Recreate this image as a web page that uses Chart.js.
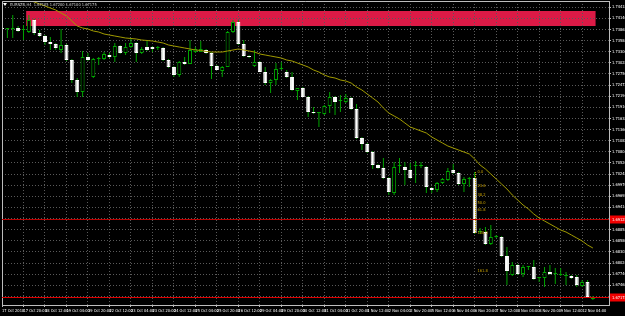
<!DOCTYPE html>
<html>
<head>
<meta charset="utf-8">
<script src="https://cdn.jsdelivr.net/npm/chart.js@4"></script>
<style>
html, body { margin: 0; padding: 0; background: #000; }
canvas { display: block; }
</style>
</head>
<body>
<canvas id="c" width="625" height="316"></canvas>
<script>
// EURNZD H4, one entry per bar (bar 0 = 17 Oct 2018 04:00)
var opens = [
  1.73900,1.73875,1.73875,1.73900,1.73850,1.73800,1.74100,1.73775,1.73700,1.73550,
  1.73500,1.73350,1.73475,1.73100,1.72600,1.72300,1.73175,1.72675,1.73125,1.73125,
  1.73225,1.73175,1.73450,1.73275,1.73425,1.73525,1.73275,1.73425,1.73425,1.73400,
  1.73400,1.73100,1.72925,1.72725,1.73050,1.73000,1.73300,1.73300,1.73350,1.73275,
  1.72950,1.72825,1.72925,1.73800,1.74050,1.73500,1.73200,1.72950,1.73050,1.72800,
  1.72525,1.72600,1.72875,1.72800,1.72675,1.72325,1.72400,1.72175,1.71800,1.71775,
  1.71750,1.71950,1.72175,1.72075,1.72050,1.72150,1.71875,1.71150,1.71000,1.70800,
  1.70475,1.70400,1.70150,1.69775,1.70450,1.70425,1.70350,1.70450,1.70450,1.70425,
  1.69900,1.69850,1.70025,1.70100,1.70350,1.70275,1.70000,1.70125,1.70150,1.68800,
  1.68800,1.68500,1.68675,1.68675,1.68200,1.67725,1.67975,1.67750,1.67925,1.67925,
  1.67650,1.67650,1.67800,1.67750,1.67725,1.67700,1.67700,1.67675,1.67450,1.67550,
  1.67125
];
var highs = [
  1.74025,1.73900,1.74225,1.73950,1.73975,1.74225,1.74125,1.73850,1.73725,1.73675,
  1.73525,1.73875,1.73500,1.73125,1.72650,1.73325,1.73275,1.73150,1.73175,1.73300,
  1.73275,1.73525,1.73475,1.73525,1.73650,1.73550,1.73425,1.73600,1.73450,1.73450,
  1.73425,1.73125,1.72950,1.73075,1.73175,1.73600,1.73425,1.73575,1.73375,1.73300,
  1.72975,1.72950,1.73825,1.74100,1.74100,1.73600,1.73225,1.73350,1.73075,1.72925,
  1.72625,1.73025,1.73050,1.72850,1.72800,1.72400,1.72425,1.72200,1.71925,1.71800,
  1.71975,1.72300,1.72200,1.72225,1.72250,1.72175,1.72000,1.71175,1.71025,1.70825,
  1.70500,1.70650,1.70175,1.70550,1.70650,1.70550,1.70525,1.70575,1.70550,1.70450,
  1.69925,1.70050,1.70150,1.70400,1.70500,1.70300,1.70175,1.70175,1.70300,1.68900,
  1.68925,1.68975,1.68725,1.68700,1.68425,1.68050,1.68000,1.67975,1.67950,1.68100,
  1.67675,1.67925,1.67975,1.67900,1.67900,1.67800,1.67725,1.67725,1.67600,1.67600,
  1.67200
];
var lows = [
  1.73850,1.73650,1.73650,1.73800,1.73600,1.73775,1.73725,1.73675,1.73475,1.73350,
  1.73350,1.73275,1.73075,1.72525,1.72175,1.72175,1.73075,1.72650,1.72975,1.73100,
  1.73150,1.73050,1.73250,1.73225,1.73400,1.73050,1.73250,1.73325,1.73300,1.73350,
  1.73075,1.72900,1.72675,1.72675,1.72975,1.73000,1.73275,1.73300,1.73250,1.72625,
  1.72850,1.72675,1.72925,1.73775,1.73475,1.73175,1.73150,1.72925,1.72800,1.72475,
  1.72275,1.72475,1.72850,1.72650,1.72325,1.72100,1.72175,1.71675,1.71750,1.71425,
  1.71725,1.71775,1.71725,1.71800,1.72025,1.71850,1.71125,1.70850,1.70775,1.70375,
  1.70375,1.70125,1.69725,1.69725,1.70275,1.69975,1.70125,1.70025,1.70400,1.69775,
  1.69775,1.69800,1.70000,1.70075,1.70250,1.69975,1.69800,1.69925,1.68750,1.68750,
  1.68475,1.68475,1.68650,1.68175,1.67475,1.67700,1.67725,1.67675,1.67850,1.67600,
  1.67550,1.67425,1.67725,1.67500,1.67700,1.67475,1.67625,1.67425,1.67425,1.67150,
  1.67100
];
var closes = [
  1.73875,1.73900,1.73900,1.73825,1.73850,1.74100,1.73775,1.73700,1.73550,1.73500,
  1.73400,1.73475,1.73100,1.72600,1.72300,1.73175,1.73100,1.73125,1.73125,1.73250,
  1.73175,1.73450,1.73275,1.73425,1.73525,1.73275,1.73375,1.73350,1.73375,1.73400,
  1.73100,1.72925,1.72725,1.73050,1.73000,1.73350,1.73375,1.73375,1.73275,1.72950,
  1.72850,1.72925,1.73800,1.74050,1.73500,1.73200,1.73175,1.73050,1.72800,1.72525,
  1.72600,1.72875,1.72875,1.72675,1.72350,1.72400,1.72175,1.71800,1.71775,1.71775,
  1.71950,1.72175,1.72050,1.72075,1.72150,1.71875,1.71150,1.71000,1.70800,1.70475,
  1.70400,1.70150,1.69800,1.70425,1.70450,1.70350,1.70150,1.70450,1.70450,1.69925,
  1.69850,1.70025,1.70125,1.70325,1.70275,1.70000,1.70125,1.70125,1.68775,1.68800,
  1.68500,1.68675,1.68675,1.68200,1.67825,1.67975,1.67750,1.67925,1.67925,1.67625,
  1.67650,1.67800,1.67750,1.67750,1.67725,1.67700,1.67650,1.67475,1.67550,1.67175,
  1.67175
];
// moving average (yellow line)
var maValues = [
  null,null,null,null,1.74650,
  1.74600,1.74550,1.74500,1.74450,1.74400,1.74350,1.74275,1.74200,1.74075,1.73950,
  1.73900,1.73875,1.73825,1.73800,1.73750,1.73725,1.73700,1.73675,1.73650,1.73638,
  1.73625,1.73600,1.73588,1.73575,1.73550,1.73525,1.73475,1.73450,1.73425,1.73400,
  1.73375,1.73350,1.73338,1.73313,1.73300,1.73300,1.73300,1.73325,1.73350,1.73375,
  1.73350,1.73325,1.73300,1.73250,1.73225,1.73200,1.73175,1.73150,1.73100,1.73075,
  1.73025,1.72975,1.72925,1.72850,1.72800,1.72725,1.72675,1.72650,1.72600,1.72575,
  1.72525,1.72425,1.72350,1.72250,1.72150,1.72050,1.71900,1.71775,1.71700,1.71625,
  1.71525,1.71425,1.71375,1.71325,1.71275,1.71175,1.71100,1.71025,1.70950,1.70900,
  1.70850,1.70800,1.70750,1.70625,1.70475,1.70375,1.70250,1.70125,1.70000,1.69875,
  1.69725,1.69600,1.69475,1.69375,1.69250,1.69150,1.69075,1.69000,1.68925,1.68850,
  1.68800,1.68725,1.68650,1.68575,1.68475,1.68400
];
// time labels, one every 4 bars
var timeLabels = [
  '17 Oct 2018','17 Oct 20:00','18 Oct 12:00','19 Oct 04:00','19 Oct 20:00',
  '22 Oct 12:00','23 Oct 04:00','23 Oct 20:00','24 Oct 12:00','25 Oct 04:00',
  '25 Oct 20:00','26 Oct 12:00','29 Oct 04:00','29 Oct 20:00','30 Oct 12:00',
  '31 Oct 04:00','31 Oct 20:00','1 Nov 12:00','2 Nov 04:00','2 Nov 20:00',
  '5 Nov 12:00','6 Nov 04:00','6 Nov 20:00','7 Nov 12:00','8 Nov 04:00',
  '8 Nov 20:00','9 Nov 12:00','12 Nov 04:00'
];
var priceTicks = [
  1.74418,1.74140,1.73862,1.73584,1.73306,1.73028,1.72750,1.72472,1.72194,
  1.71916,1.71638,1.71360,1.71082,1.70804,1.70526,1.70248,1.69970,1.69692,
  1.69414,1.69136,1.68858,1.68580,1.68302,1.68024,1.67746,1.67468,1.67190
];
var zonePrices = [1.74325, 1.73950];   // red supply zone
var zoneBars = [5, 110];
var levelPrices = [1.69125, 1.67175];  // red horizontal lines
var fibPrices = [1.70300, 1.68775];    // fibo 0 / 100
var fibLevels = [0, 23.6, 38.2, 50, 61.8, 100, 161.8];
var fibBar = 88;
var headerText = 'EURNZD,H4  1.67125 1.67200 1.67100 1.67175';

var GREEN = '#00a400';
var GRID = '#5a5a5a';
var AXIS = '#bdbdbd';
var FONT = "'Liberation Sans Narrow', 'DejaVu Sans Condensed', sans-serif";
var N_SLOTS = 114;

var slots = [];
for (var i = 0; i < N_SLOTS; i++) slots.push(i);

var wicks = lows.map(function(l, i) { return [l, highs[i]]; });
var bodies = opens.map(function(o, i) { return [o, closes[i]]; });
var bodyFill = opens.map(function(o, i) {
  if (closes[i] > o) return '#000';
  if (closes[i] < o) return '#fff';
  return GREEN;
});
var bodyEdge = opens.map(function(o, i) { return closes[i] < o ? '#fff' : GREEN; });

var background = {
  id: 'background',
  beforeDraw: function(chart) {
    var ctx = chart.ctx, xs = chart.scales.x, ys = chart.scales.y;
    ctx.save();
    ctx.fillStyle = '#000';
    ctx.fillRect(0, 0, chart.width, chart.height);
    var step = xs.getPixelForValue(1) - xs.getPixelForValue(0);
    var x0 = xs.getPixelForValue(zoneBars[0]) - step / 2;
    var x1 = xs.getPixelForValue(zoneBars[1]) + step / 2;
    var y0 = ys.getPixelForValue(zonePrices[0]);
    var y1 = ys.getPixelForValue(zonePrices[1]);
    ctx.fillStyle = '#dc1a46';
    ctx.fillRect(x0, y0, x1 - x0, y1 - y0);
    ctx.restore();
  }
};

var overlays = {
  id: 'overlays',
  afterDraw: function(chart) {
    var ctx = chart.ctx, xs = chart.scales.x, ys = chart.scales.y, a = chart.chartArea;
    ctx.save();
    // frame
    ctx.strokeStyle = AXIS;
    ctx.lineWidth = 1;
    ctx.beginPath();
    ctx.moveTo(a.left + 0.5, a.bottom);
    ctx.lineTo(a.left + 0.5, a.top + 0.5);
    ctx.lineTo(a.right, a.top + 0.5);
    ctx.stroke();

    // fibo retracement
    var fx = Math.round(xs.getPixelForValue(fibBar)) + 0.5;
    var fy0 = ys.getPixelForValue(fibPrices[0]);
    var fy1 = ys.getPixelForValue(fibPrices[1]);
    ctx.strokeStyle = '#c8a000';
    ctx.setLineDash([1, 1]);
    ctx.beginPath();
    ctx.moveTo(fx, fy0);
    ctx.lineTo(fx, fy1);
    ctx.stroke();
    ctx.setLineDash([]);
    ctx.fillStyle = '#c8a000';
    ctx.font = '4px ' + FONT;
    ctx.textAlign = 'left';
    ctx.textBaseline = 'middle';
    fibLevels.forEach(function(lv) {
      var p = fibPrices[0] - (fibPrices[0] - fibPrices[1]) * lv / 100;
      ctx.fillText(lv.toFixed(1), fx + 2, ys.getPixelForValue(p));
    });

    // horizontal levels
    levelPrices.forEach(function(p, k) {
      var y = Math.round(ys.getPixelForValue(p)) + 0.5;
      ctx.strokeStyle = k == 0 ? '#c00000' : '#e00000';
      ctx.beginPath();
      ctx.moveTo(a.left, y);
      ctx.lineTo(a.right, y);
      ctx.stroke();
      ctx.fillStyle = '#f00000';
      ctx.fillRect(a.right + 1, y - 4, chart.width - a.right - 1, 8);
      ctx.fillStyle = '#fff';
      ctx.fillText(p.toFixed(5), a.right + 3, y);
    });

    // header
    ctx.fillStyle = '#fff';
    ctx.beginPath();
    ctx.moveTo(3, 3);
    ctx.lineTo(7, 3);
    ctx.lineTo(5, 6);
    ctx.closePath();
    ctx.fill();
    ctx.fillStyle = '#d0d0d0';
    ctx.fillText(headerText, 10, 4.5);
    ctx.restore();
  }
};

new Chart(document.getElementById('c'), {
  type: 'bar',
  data: {
    labels: slots,
    datasets: [
      {
        type: 'line',
        data: maValues,
        borderColor: '#a09a00',
        borderWidth: 1,
        pointRadius: 0,
        tension: 0,
        order: 0
      },
      {
        data: bodies,
        backgroundColor: bodyFill,
        borderColor: bodyEdge,
        borderWidth: 1,
        borderSkipped: false,
        barThickness: 4,
        minBarLength: 1,
        inflateAmount: 0,
        grouped: false,
        order: 1
      },
      {
        data: wicks,
        backgroundColor: GREEN,
        borderWidth: 0,
        barThickness: 1,
        inflateAmount: 0,
        grouped: false,
        order: 2
      }
    ]
  },
  options: {
    responsive: false,
    animation: false,
    devicePixelRatio: 1,
    layout: { autoPadding: false, padding: { left: 2, top: 1, right: 0, bottom: 0 } },
    plugins: { legend: { display: false }, tooltip: { enabled: false } },
    scales: {
      x: {
        type: 'category',
        offset: false,
        grid: { offset: false, color: GRID, tickLength: 2, tickColor: AXIS },
        border: { color: AXIS, dash: [1, 2] },
        ticks: {
          color: '#fff',
          font: { family: FONT, size: 4 },
          autoSkip: false,
          maxRotation: 0,
          minRotation: 0,
          align: 'start',
          padding: 2,
          callback: function(v, i) { return timeLabels[i]; }
        },
        afterBuildTicks: function(s) {
          s.ticks = timeLabels.map(function(t, k) { return { value: k * 4 }; });
        },
        afterFit: function(s) {
          s.height = 11;
          s.paddingLeft = 0; s.paddingRight = 0;
        }
      },
      y: {
        type: 'linear',
        position: 'right',
        min: 1.66975,
        max: 1.74575,
        grid: { color: GRID, tickLength: 2, tickColor: AXIS },
        border: { color: AXIS, dash: [1, 2] },
        ticks: {
          color: '#fff',
          font: { family: FONT, size: 4 },
          padding: 1,
          callback: function(v) { return v.toFixed(5); }
        },
        afterBuildTicks: function(s) {
          s.ticks = priceTicks.map(function(v) { return { value: v }; });
        },
        afterFit: function(s) {
          s.width = 16;
          s.paddingTop = 0; s.paddingBottom = 0;
        }
      }
    }
  },
  plugins: [background, overlays]
});
</script>
</body>
</html>
